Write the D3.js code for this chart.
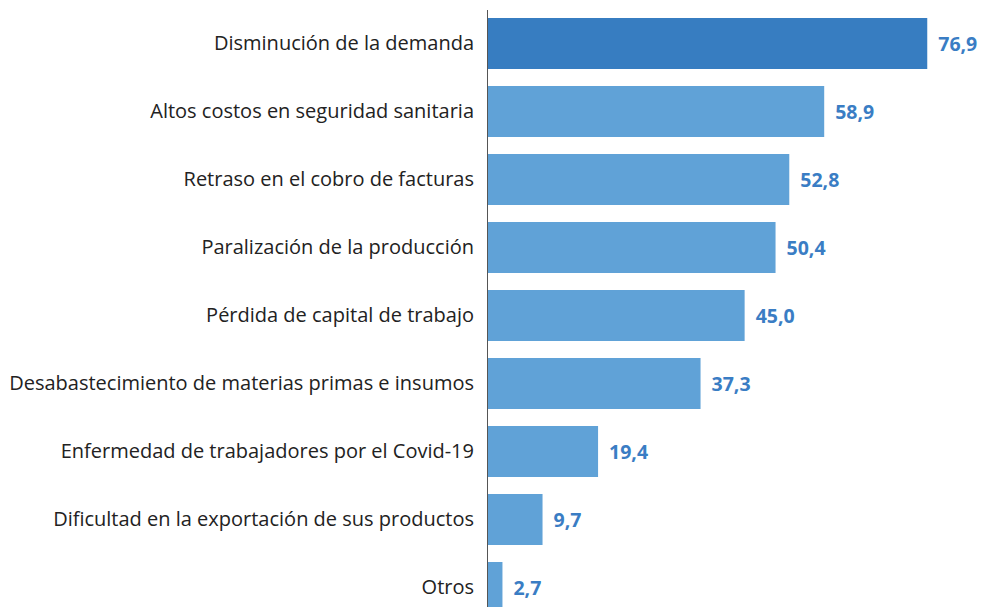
<!DOCTYPE html>
<html>
<head>
<meta charset="utf-8">
<script src="https://cdn.jsdelivr.net/npm/d3@7"></script>
<style>
  body { margin: 0; background: #fff; }
  svg { display: block; font-family: "Open Sans", "Noto Sans", sans-serif; }
</style>
</head>
<body>
<script>
// chart size
var w = 997;
var h = 607;

// data (percent of firms)
var categories = [
  "Disminución de la demanda",
  "Altos costos en seguridad sanitaria",
  "Retraso en el cobro de facturas",
  "Paralización de la producción",
  "Pérdida de capital de trabajo",
  "Desabastecimiento de materias primas e insumos",
  "Enfermedad de trabajadores por el Covid-19",
  "Dificultad en la exportación de sus productos",
  "Otros"
];
var values = [76.9, 58.9, 52.8, 50.4, 45.0, 37.3, 19.4, 9.7, 2.7];

var rows = categories.map(function(c, i) { return { name: c, value: values[i] }; });

var margin = { top: 9.5, left: 487 };

var svg = d3.select("body")
  .append("svg")
  .attr("width", w)
  .attr("height", h);

var g = svg.append("g")
  .attr("transform", "translate(" + margin.left + "," + margin.top + ")");

var x = d3.scaleLinear()
  .domain([0, 80])
  .range([0, 458]);

var y = d3.scaleBand()
  .domain(categories)
  .range([0, 612])
  .paddingInner(0.25)
  .paddingOuter(0.125);

// bars
g.selectAll("rect.bar")
  .data(rows)
  .enter()
  .append("rect")
  .attr("class", "bar")
  .attr("x", 0)
  .attr("y", function(d) { return y(d.name); })
  .attr("width", function(d) { return x(d.value); })
  .attr("height", y.bandwidth())
  .attr("fill", function(d, i) { return i === 0 ? "#377dc1" : "#60a2d7"; });

// value labels
g.selectAll("text.val")
  .data(rows)
  .enter()
  .append("text")
  .attr("class", "val")
  .attr("x", function(d) { return x(d.value) + 11; })
  .attr("y", function(d) { return y(d.name) + y.bandwidth() / 2; })
  .attr("dy", "0.4em")
  .style("font-size", "19.5px")
  .style("font-weight", "bold")
  .style("fill", "#3a7dc4")
  .text(function(d) { return d.value.toFixed(1).replace(".", ","); });

// category labels via the band axis
var yAxis = d3.axisLeft(y).tickSize(0).tickPadding(13);
var ax = g.append("g").call(yAxis);
ax.select(".domain").remove();
ax.selectAll("text")
  .attr("dy", "0.3em")
  .style("font-size", "20px")
  .style("font-family", "'Open Sans', 'Noto Sans', sans-serif")
  .style("fill", "#222");

// vertical baseline
svg.append("line")
  .attr("x1", margin.left + 0.5)
  .attr("x2", margin.left + 0.5)
  .attr("y1", 10)
  .attr("y2", h)
  .attr("stroke", "#555")
  .attr("stroke-width", 1);
</script>
</body>
</html>
